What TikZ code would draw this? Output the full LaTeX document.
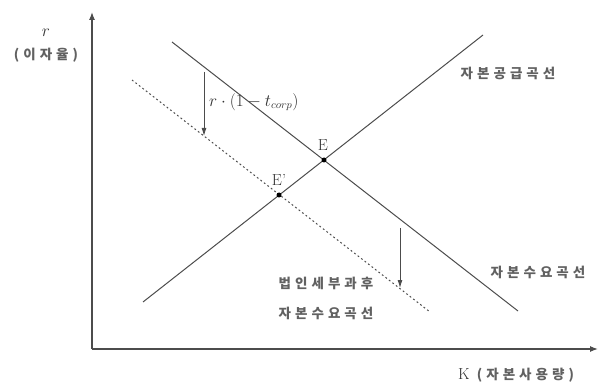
\documentclass[tikz,border=0pt]{standalone}
\usepackage{fontspec}
\newfontfamily\kr[LetterSpace=30]{Noto Sans CJK KR}
\usetikzlibrary{arrows.meta}
\begin{document}
\begin{tikzpicture}[x=1pt,y=-1pt,
  curveln/.style={draw=black!70,line width=1pt},
  axisln/.style={draw=black!70,line width=1.2pt,-{Latex[length=8pt,width=6pt]}},
  shiftarr/.style={draw=black!70,line width=0.9pt,-{Latex[length=8pt,width=5pt]}},
  kt/.style={text=black!62,font=\kr\bfseries\fontsize{13.5}{15}\selectfont,inner sep=0pt},
  lt/.style={text=black!80,font=\fontsize{16}{18}\selectfont,inner sep=0pt},
  dotnode/.style={circle,fill=black,inner sep=0pt,minimum size=5pt}]
\useasboundingbox (0,0) rectangle (599,387);
% axes
\coordinate (O) at (92,349);
\coordinate (Ytop) at (92,12);
\coordinate (Xend) at (598,349);
\draw[axisln] (O) -- (Ytop);
\draw[axisln] (O) -- (Xend);
% curves
\coordinate (S1) at (143,302);
\coordinate (S2) at (483,35);
\coordinate (D1) at (172,42);
\coordinate (D2) at (518,311);
\coordinate (T1) at (132,80);
\coordinate (T2) at (430,312);
\draw[curveln] (S1) -- (S2);
\draw[curveln] (D1) -- (D2);
\draw[draw=black!70,line width=1pt,dash pattern=on 1.8pt off 2.6pt] (T1) -- (T2);
% equilibria
\node[dotnode] (E) at (324,160) {};
\node[dotnode] (Ep) at (279,195) {};
\node[lt] (El) at (323,145) {E};
\node[lt] (Epl) at (279,180) {E'};
% shift arrows
\coordinate (A1s) at (204,72);
\coordinate (A1e) at (204,136);
\coordinate (A2s) at (400,228);
\coordinate (A2e) at (400,288);
\draw[shiftarr] (A1s) -- (A1e);
\draw[shiftarr] (A2s) -- (A2e);
\node[lt,anchor=west] (tax) at (209,102) {$r\cdot(1-t_{corp})$};
% labels
\node[lt] (r) at (46,33) {$r$};
\node[kt] (ri) at (46,55) {(이자율)};
\node[kt] (sup) at (508,73) {자본공급곡선};
\node[kt] (dem) at (538,272) {자본수요곡선};
\node[kt] (tax1) at (326,283) {법인세부과후};
\node[kt] (tax2) at (326,313) {자본수요곡선};
\node[kt,anchor=west] (K) at (458,375) {{\mdseries\rmfamily\color{black!80}\fontsize{16}{18}\selectfont K} (자본사용량)};
\end{tikzpicture}
\end{document}
